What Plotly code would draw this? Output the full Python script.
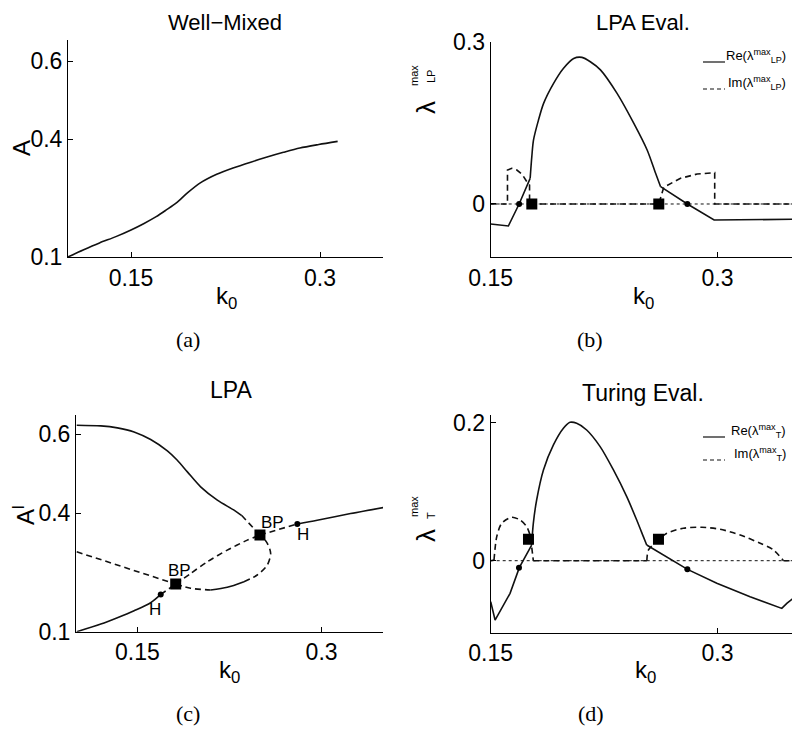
import plotly.graph_objects as go

# ---------------- data ----------------
# (a) Well-Mixed
k_wm = [0.100, 0.112, 0.125, 0.138, 0.150, 0.160, 0.170, 0.178, 0.186, 0.195, 0.205, 0.218, 0.231, 0.245, 0.258, 0.271, 0.284, 0.299, 0.314]
A_wm = [0.100, 0.118, 0.136, 0.152, 0.169, 0.185, 0.203, 0.220, 0.238, 0.264, 0.289, 0.311, 0.327, 0.342, 0.355, 0.367, 0.378, 0.387, 0.395]

# (b) LPA eigenvalues
k_lp_re = [0.150, 0.1617, 0.1688, 0.1750, 0.1761, 0.1772, 0.1783, 0.1816, 0.1850, 0.1916, 0.1982, 0.2049, 0.2104, 0.2159, 0.2226, 0.2336, 0.2447, 0.2535, 0.2591, 0.2624, 0.2801, 0.2978, 0.350]
lp_re = [-0.037, -0.0407, 0.000, 0.0382, 0.0474, 0.0875, 0.118, 0.155, 0.186, 0.223, 0.251, 0.269, 0.271, 0.263, 0.248, 0.2045, 0.149, 0.0998, 0.0567, 0.032, 0.000, -0.0296, -0.0283]
k_lp_im = [0.150, 0.1611, 0.1611, 0.1639, 0.1673, 0.1706, 0.1739, 0.1757, 0.1757, 0.2612, 0.2645, 0.2756, 0.2866, 0.2966, 0.2982, 0.2982, 0.350]
lp_im = [0.000, 0.000, 0.0628, 0.0659, 0.0628, 0.0554, 0.0413, 0.0351, 0.000, 0.000, 0.031, 0.0475, 0.0554, 0.0579, 0.0579, 0.000, 0.000]
k_lp_bp = [0.1772, 0.2612]
lp_bp = [0.0, 0.0]
k_lp_h = [0.1688, 0.2801]
lp_h = [0.0, 0.0]

# (c) LPA bifurcation diagram (branches)
k_c_up_solid = [0.1006, 0.1202, 0.1337, 0.1473, 0.1608, 0.1744, 0.1825, 0.1907, 0.2015, 0.2151, 0.2287, 0.2350]
A_c_up_solid = [0.6227, 0.6210, 0.6160, 0.6058, 0.5864, 0.5577, 0.5340, 0.5046, 0.4667, 0.4330, 0.4077, 0.3940]
k_c_up_dash = [0.2350, 0.2498]
A_c_up_dash = [0.3940, 0.3448]
k_c_left_dash = [0.1006, 0.1419, 0.1812]
A_c_left_dash = [0.3023, 0.2602, 0.2206]
k_c_low_solid = [0.1006, 0.1202, 0.1337, 0.1473, 0.1608, 0.1690]
A_c_low_solid = [0.1000, 0.1194, 0.1354, 0.1531, 0.1733, 0.1944]
k_c_low_dash = [0.1690, 0.1812]
A_c_low_dash = [0.1944, 0.2206]
k_c_mid_dash = [0.1812, 0.1934, 0.2069, 0.2232, 0.2395, 0.2498]
A_c_mid_dash = [0.2206, 0.2475, 0.2770, 0.3065, 0.3318, 0.3448]
k_c_loop_dash1 = [0.1812, 0.1934, 0.2096]
A_c_loop_dash1 = [0.2206, 0.2099, 0.2056]
k_c_loop_solid = [0.2096, 0.2232, 0.2368]
A_c_loop_solid = [0.2056, 0.2124, 0.2266]
k_c_loop_dash2 = [0.2368, 0.2476, 0.2558, 0.2585, 0.2558, 0.2517, 0.2498]
A_c_loop_dash2 = [0.2266, 0.2435, 0.2689, 0.2985, 0.3238, 0.3405, 0.3448]
k_c_right_dash = [0.2498, 0.2802]
A_c_right_dash = [0.3448, 0.3727]
k_c_right_solid = [0.2802, 0.2964, 0.3236, 0.3507]
A_c_right_solid = [0.3727, 0.3820, 0.3990, 0.4145]
k_c_bp = [0.1812, 0.2498]
A_c_bp = [0.2206, 0.3448]
k_c_h = [0.1690, 0.2802]
A_c_h = [0.1944, 0.3727]

# (d) Turing eigenvalues
k_t_re = [0.150, 0.1529, 0.1628, 0.1690, 0.1771, 0.1782, 0.1804, 0.1849, 0.1915, 0.1981, 0.2025, 0.2069, 0.2135, 0.2224, 0.2312, 0.2400, 0.2466, 0.2510, 0.2532, 0.2698, 0.2802, 0.2996, 0.3216, 0.3426, 0.3459, 0.350]
t_re = [-0.0594, -0.086, -0.0473, -0.0097, 0.0227, 0.0541, 0.0879, 0.1314, 0.1676, 0.1917, 0.2004, 0.199, 0.1893, 0.1652, 0.1314, 0.0927, 0.0589, 0.0348, 0.0227, 0.001, -0.0126, -0.0328, -0.0522, -0.0691, -0.0618, -0.0546]
k_t_im = [0.150, 0.1522, 0.1540, 0.1573, 0.1639, 0.1694, 0.1738, 0.1760, 0.1771, 0.1782, 0.2533, 0.2544, 0.2610, 0.2665, 0.2775, 0.2897, 0.3018, 0.3151, 0.3283, 0.3371, 0.3437, 0.350]
t_im = [0.000, 0.001, 0.0348, 0.0542, 0.0629, 0.059, 0.0493, 0.0372, 0.0203, 0.000, 0.000, 0.0155, 0.0300, 0.0397, 0.047, 0.0484, 0.0455, 0.0372, 0.0252, 0.0155, 0.000, 0.000]
k_t_bp = [0.1750, 0.2610]
t_bp = [0.031, 0.031]
k_t_h = [0.1687, 0.2801]
t_h = [-0.0101, -0.0125]

zero_k = [0.15, 0.35]
zero_v = [0.0, 0.0]

x_ticks = [0.15, 0.3]
x_ticktext = ["0.15", "0.3"]
yA_ticks = [0.1, 0.4, 0.6]
yA_ticktext = ["0.1", "0.4", "0.6"]
yb_ticks = [0, 0.3]
yb_ticktext = ["0", "0.3"]
yd_ticks = [0, 0.2]
yd_ticktext = ["0", "0.2"]

# ---------------- figure ----------------
# the page body has an 8px margin, so the figure is placed at (8, 8)
OFF = 8
FW, FH = 792, 727
def fx(x):
    return (x - OFF) / FW
def fy(y):
    return 1 - (y - OFF) / FH

BLACK = "#111111"
SANS = "Liberation Sans, Arial, sans-serif"
DASH = "6px,4px"
LW = 1.6

fig = go.Figure()

def line(xs, ys, ax, dash="solid", width=LW, shape="linear"):
    fig.add_trace(go.Scatter(x=xs, y=ys, mode="lines", xaxis="x" + ax, yaxis="y" + ax,
                             line=dict(color=BLACK, width=width, dash=dash, shape=shape,
                                       smoothing=0.8 if shape == "spline" else None),
                             showlegend=False, hoverinfo="skip"))

def pieces(xs, ys, ax, cuts, dash="solid"):
    # cuts: list of (start, end, shape) index ranges, inclusive end
    for (a, b, shp) in cuts:
        line(xs[a:b + 1], ys[a:b + 1], ax, dash=dash, shape=shp)

def marks(xs, ys, ax, symbol, size):
    fig.add_trace(go.Scatter(x=xs, y=ys, mode="markers", xaxis="x" + ax, yaxis="y" + ax,
                             marker=dict(symbol=symbol, size=size, color="black"),
                             showlegend=False, hoverinfo="skip"))

# (a)
line(k_wm, A_wm, "", shape="spline")
# (b)
line(zero_k, zero_v, "2", dash="dot", width=1)
line(k_lp_im, lp_im, "2", dash=DASH)
pieces(k_lp_re, lp_re, "2", [(0, 4, "linear"), (4, 19, "spline"), (19, len(lp_re) - 1, "linear")])
marks(k_lp_bp, lp_bp, "2", "square", 11)
marks(k_lp_h, lp_h, "2", "circle", 6)
# (c)
line(k_c_up_solid, A_c_up_solid, "3", shape="spline")
line(k_c_up_dash, A_c_up_dash, "3", dash=DASH)
line(k_c_left_dash, A_c_left_dash, "3", dash=DASH)
line(k_c_low_solid, A_c_low_solid, "3", shape="spline")
line(k_c_low_dash, A_c_low_dash, "3", dash=DASH)
line(k_c_mid_dash, A_c_mid_dash, "3", dash=DASH, shape="spline")
line(k_c_loop_dash1, A_c_loop_dash1, "3", dash=DASH, shape="spline")
line(k_c_loop_solid, A_c_loop_solid, "3", shape="spline")
line(k_c_loop_dash2, A_c_loop_dash2, "3", dash=DASH, shape="spline")
line(k_c_right_dash, A_c_right_dash, "3", dash=DASH)
line(k_c_right_solid, A_c_right_solid, "3", shape="spline")
marks(k_c_bp, A_c_bp, "3", "square", 11)
marks(k_c_h, A_c_h, "3", "circle", 6)
# (d)
line(zero_k, zero_v, "4", dash="dot", width=1)
pieces(k_t_im, t_im, "4", [(0, 1, "linear"), (1, 9, "spline"), (9, 10, "linear"),
                           (10, 20, "spline"), (20, len(t_im) - 1, "linear")], dash=DASH)
pieces(k_t_re, t_re, "4", [(0, 4, "linear"), (4, 18, "spline"), (18, len(t_re) - 1, "linear")])
marks(k_t_bp, t_bp, "4", "square", 11)
marks(k_t_h, t_h, "4", "circle", 6)

tickfont = dict(family=SANS, size=23, color="black")
def xax(x0, x1, rng, anchor):
    return dict(domain=[fx(x0), fx(x1)], range=rng, anchor=anchor, showline=True, linecolor="black",
                linewidth=1, ticks="inside", ticklen=5, tickcolor="black", tickvals=x_ticks,
                ticktext=x_ticktext, tickfont=tickfont, showgrid=False, zeroline=False, automargin=False)
def yax(top, bottom, rng, anchor, tv, tt):
    return dict(domain=[fy(bottom), fy(top)], range=rng, anchor=anchor, showline=True, linecolor="black",
                linewidth=1, ticks="inside", ticklen=5, tickcolor="black", tickvals=tv, ticktext=tt,
                tickfont=tickfont, showgrid=False, zeroline=False, automargin=False)

fig.update_layout(
    width=FW, height=FH, margin=dict(l=0, r=0, t=0, b=0, autoexpand=False),
    paper_bgcolor="white", plot_bgcolor="white",
    xaxis=xax(68, 383, [0.1, 0.35], "y"),
    yaxis=yax(40, 257, [0.1, 0.6536], "x", yA_ticks, yA_ticktext),
    xaxis2=xax(490.7, 793, [0.15, 0.35], "y2"),
    yaxis2=yax(41.7, 257, [-0.098, 0.3], "x2", yb_ticks, yb_ticktext),
    xaxis3=xax(76, 383, [0.1, 0.35], "y3"),
    yaxis3=yax(415, 631.7, [0.1, 0.6486], "x3", yA_ticks, yA_ticktext),
    xaxis4=xax(490.7, 793, [0.15, 0.35], "y4"),
    yaxis4=yax(415, 632.7, [-0.1043, 0.211], "x4", yd_ticks, yd_ticktext),
)

ann = []
def text(x, y, s, size, family=SANS, angle=0, xanchor="center", yanchor="middle"):
    ann.append(dict(x=fx(x), y=fy(y), xref="paper", yref="paper", text=s, showarrow=False,
                    font=dict(family=family, size=size, color="black"), textangle=angle,
                    xanchor=xanchor, yanchor=yanchor))

# titles (top ones anchored to the figure top so they are not clipped)
text(225, 8, "Well\u2212Mixed", 22, yanchor="top")
text(643, 8, "LPA Eval.", 22, yanchor="top")
text(231, 390, "LPA", 23)
text(643, 393, "Turing Eval.", 23)
# x labels
for (x, y) in [(226, 297), (643, 297), (229, 671), (645, 671)]:
    text(x, y, "k<sub>0</sub>", 24)
# y labels
text(21, 148, "A", 24, angle=-90)
text(24, 515, "A<sup>l</sup>", 24, angle=-90)
# lambda labels
text(426, 108, "\u03bb", 26, angle=-90)
text(414, 76, "max", 11, angle=-90)
text(431, 77, "LP", 11, angle=-90)
text(426, 536, "\u03bb", 26, angle=-90)
text(414, 507, "max", 11, angle=-90)
text(431, 516, "T", 11, angle=-90)
# BP / H labels in (c)
text(179, 570, "BP", 17)
text(272, 522, "BP", 17)
text(155, 609, "H", 17)
text(303, 534, "H", 17)
# legends
text(788, 56, "Re(\u03bb<sup>max</sup><sub>LP</sub>)", 13, xanchor="right")
text(788, 83, "Im(\u03bb<sup>max</sup><sub>LP</sub>)", 13, xanchor="right")
text(788, 431, "Re(\u03bb<sup>max</sup><sub>T</sub>)", 13, xanchor="right")
text(788, 454, "Im(\u03bb<sup>max</sup><sub>T</sub>)", 13, xanchor="right")
# captions
SERIF = "Liberation Serif, Times New Roman, serif"
text(188, 340, "(a)", 22, family=SERIF)
text(590, 340, "(b)", 22, family=SERIF)
text(188, 713, "(c)", 22, family=SERIF)
text(591, 713, "(d)", 22, family=SERIF)

fig.update_layout(annotations=ann)

# legend line samples
shapes = []
for (y, d) in [(62, "solid"), (89, "dash"), (437, "solid"), (460, "dash")]:
    shapes.append(dict(type="line", xref="paper", yref="paper", x0=fx(703), x1=fx(725),
                       y0=fy(y), y1=fy(y),
                       line=dict(color=BLACK, width=1.2, dash="solid" if d == "solid" else "4px,3px")))
fig.update_layout(shapes=shapes)

fig.write_html("out.html")
